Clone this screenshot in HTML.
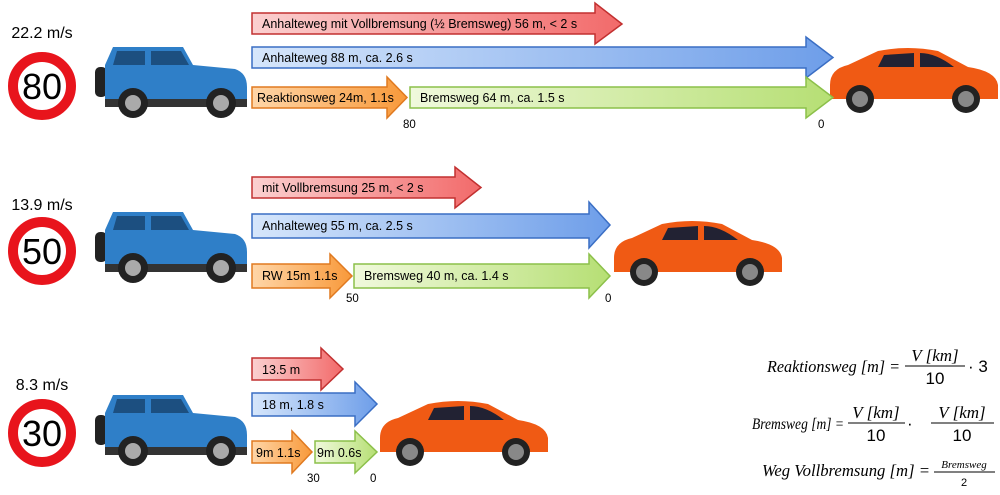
<!DOCTYPE html>
<html><head><meta charset="utf-8"><style>
body{margin:0;background:#fff;width:1000px;height:490px;overflow:hidden;font-family:"Liberation Sans",sans-serif}
svg text{font-family:"Liberation Sans",sans-serif}
.f{font-family:"Liberation Serif",serif;font-style:italic}
</style></head><body>
<svg width="1000" height="490" viewBox="0 0 1000 490" xmlns="http://www.w3.org/2000/svg">
<defs>
<linearGradient id="gr" x1="0" x2="1"><stop offset="0" stop-color="#fbd0d0"/><stop offset="1" stop-color="#f26a6a"/></linearGradient>
<linearGradient id="gb" x1="0" x2="1"><stop offset="0" stop-color="#d6e6fb"/><stop offset="1" stop-color="#6e9ee9"/></linearGradient>
<linearGradient id="go" x1="0" x2="1"><stop offset="0" stop-color="#ffd6a8"/><stop offset="1" stop-color="#f8993a"/></linearGradient>
<linearGradient id="gg" x1="0" x2="1"><stop offset="0" stop-color="#f0f9dc"/><stop offset="1" stop-color="#b6df74"/></linearGradient>
<g id="jeep">
<rect x="0" y="22" width="12" height="30" rx="5" fill="#222"/>
<path d="M10 20 L18 2 L88 2 L98 20 L140 24 Q152 28 152 42 L152 56 L10 56 Z" fill="#2f7fc8"/>
<path d="M22 6 L50 6 L50 20 L18 20 Z M56 6 L86 6 L94 20 L56 20 Z" fill="#1c4f80"/>
<rect x="10" y="54" width="142" height="8" fill="#333"/>
<circle cx="38" cy="58" r="15" fill="#222"/><circle cx="38" cy="58" r="8" fill="#aaa"/>
<circle cx="126" cy="58" r="15" fill="#222"/><circle cx="126" cy="58" r="8" fill="#aaa"/>
</g>
<g id="car">
<path d="M2 40 Q2 24 20 20 L50 6 Q80 0 110 6 L140 22 Q168 26 170 40 L170 54 L2 54 Z" fill="#f05a14"/>
<path d="M56 10 L86 8 L86 22 L50 22 Z M92 8 Q108 8 126 22 L92 22 Z" fill="#223"/>
<circle cx="32" cy="54" r="14" fill="#222"/><circle cx="32" cy="54" r="8" fill="#888"/>
<circle cx="138" cy="54" r="14" fill="#222"/><circle cx="138" cy="54" r="8" fill="#888"/>
</g>
</defs>

<g font-size="16" text-anchor="middle" fill="#000">
<text x="42" y="38">22.2 m/s</text>
<text x="42" y="210">13.9 m/s</text>
<text x="42" y="390">8.3 m/s</text>
</g>
<g fill="#fff" stroke="#e8141c" stroke-width="10">
<circle cx="42" cy="86" r="29"/><circle cx="42" cy="251" r="29"/><circle cx="42" cy="433" r="29"/>
</g>
<g font-size="36" text-anchor="middle" fill="#000">
<text x="42" y="99">80</text><text x="42" y="264">50</text><text x="42" y="446">30</text>
</g>

<use href="#jeep" x="95" y="45"/>
<use href="#jeep" x="95" y="210"/>
<use href="#jeep" x="95" y="393"/>
<use href="#car" x="828" y="45"/>
<use href="#car" x="612" y="218"/>
<use href="#car" x="378" y="398"/>

<g stroke-width="1.5" font-size="12.5">
<polygon points="252,13 595,13 595,3 622,24 595,44 595,34 252,34" fill="url(#gr)" stroke="#c23030"/>
<polygon points="252,47 806,47 806,37 833,57.5 806,78 806,68 252,68" fill="url(#gb)" stroke="#3a6ec4"/>
<polygon points="252,87 387,87 387,77 407,97.5 387,118 387,108 252,108" fill="url(#go)" stroke="#e07a20"/>
<polygon points="410,87 806,87 806,77 833,97.5 806,118 806,108 410,108" fill="url(#gg)" stroke="#8cc04a"/>
<text x="262" y="28">Anhalteweg mit Vollbremsung (½ Bremsweg) 56 m, &lt; 2 s</text>
<text x="262" y="62">Anhalteweg 88 m, ca. 2.6 s</text>
<text x="257" y="102">Reaktionsweg 24m, 1.1s</text>
<text x="420" y="102">Bremsweg 64 m, ca. 1.5 s</text>
</g>
<g font-size="11.5"><text x="403" y="128">80</text><text x="818" y="128">0</text></g>

<g stroke-width="1.5" font-size="12.5">
<polygon points="252,177 455,177 455,167 481,187.5 455,208 455,198 252,198" fill="url(#gr)" stroke="#c23030"/>
<polygon points="252,214 589,214 589,202 610,225 589,248 589,238 252,238" fill="url(#gb)" stroke="#3a6ec4"/>
<polygon points="252,264 330,264 330,254 352,276 330,298 330,288 252,288" fill="url(#go)" stroke="#e07a20"/>
<polygon points="354,264 589,264 589,254 610,276 589,298 589,288 354,288" fill="url(#gg)" stroke="#8cc04a"/>
<text x="262" y="192">mit Vollbremsung 25 m, &lt; 2 s</text>
<text x="262" y="230">Anhalteweg 55 m, ca. 2.5 s</text>
<text x="262" y="280">RW 15m 1.1s</text>
<text x="364" y="280">Bremsweg 40 m, ca. 1.4 s</text>
</g>
<g font-size="11.5"><text x="346" y="302">50</text><text x="605" y="302">0</text></g>

<g stroke-width="1.5" font-size="12.5">
<polygon points="252,358 321,358 321,348 343,369 321,390 321,380 252,380" fill="url(#gr)" stroke="#c23030"/>
<polygon points="252,393 355,393 355,382 377,404 355,426 355,416 252,416" fill="url(#gb)" stroke="#3a6ec4"/>
<polygon points="252,441 292,441 292,431 312,452 292,473 292,463 252,463" fill="url(#go)" stroke="#e07a20"/>
<polygon points="315,441 355,441 355,431 377,452 355,473 355,463 315,463" fill="url(#gg)" stroke="#8cc04a"/>
<text x="262" y="374">13.5 m</text>
<text x="262" y="409">18 m, 1.8 s</text>
<text x="256" y="457">9m 1.1s</text>
<text x="317" y="457">9m 0.6s</text>
</g>
<g font-size="11.5"><text x="307" y="482">30</text><text x="370" y="482">0</text></g>

<g font-size="17" fill="#000">
<text class="f" x="767" y="372" textLength="133" lengthAdjust="spacingAndGlyphs">Reaktionsweg [m] =</text>
<text class="f" x="935" y="361" text-anchor="middle">V [km]</text>
<line x1="905" y1="366" x2="965" y2="366" stroke="#000"/>
<text x="935" y="384" text-anchor="middle" font-family="Liberation Serif">10</text>
<text x="968" y="372" font-family="Liberation Serif">· 3</text>

<text class="f" x="752" y="429" font-size="16" textLength="92" lengthAdjust="spacingAndGlyphs">Bremsweg [m] =</text>
<text class="f" x="876" y="418" text-anchor="middle">V [km]</text>
<line x1="848" y1="423" x2="905" y2="423" stroke="#000"/>
<text x="876" y="441" text-anchor="middle" font-family="Liberation Serif">10</text>
<text x="907" y="429" font-family="Liberation Serif">·</text>
<text class="f" x="962" y="418" text-anchor="middle">V [km]</text>
<line x1="931" y1="423" x2="994" y2="423" stroke="#000"/>
<text x="962" y="441" text-anchor="middle" font-family="Liberation Serif">10</text>

<text class="f" x="762" y="476" textLength="168" lengthAdjust="spacingAndGlyphs">Weg Vollbremsung [m] =</text>
<text class="f" x="964" y="468" text-anchor="middle" font-size="11">Bremsweg</text>
<line x1="934" y1="472" x2="995" y2="472" stroke="#000"/>
<text x="964" y="486" text-anchor="middle" font-size="11" font-family="Liberation Serif">2</text>
</g>
</svg>
</body></html>
